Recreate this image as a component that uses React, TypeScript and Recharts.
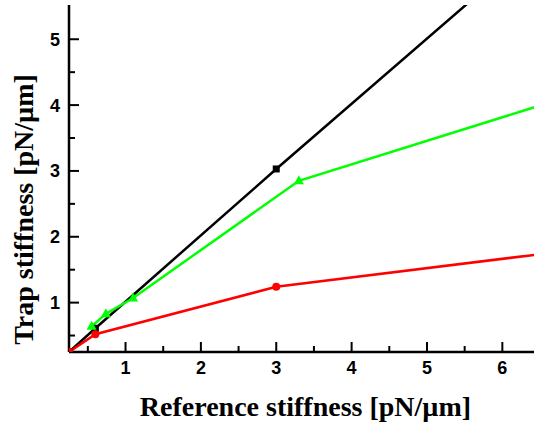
import React from 'react';
import { LineChart, Line, XAxis, YAxis } from 'recharts';

// reference stiffness (x) and measured trap stiffness (y), pN/µm
const refBlack = [0.25, 0.6, 3.0, 6.0];
const trapBlack = [0.25, 0.61, 3.03, 6.0];
const refRed = [0.25, 0.6, 3.0, 6.6];
const trapRed = [0.25, 0.52, 1.24, 1.75];
const refGreen = [0.55, 0.74, 1.1, 3.3, 6.6];
const trapGreen = [0.64, 0.83, 1.07, 2.85, 4.03];

const xTicks = [0.5, 1, 1.5, 2, 2.5, 3, 3.5, 4, 4.5, 5, 5.5, 6];
const yTicks = [0.5, 1, 1.5, 2, 2.5, 3, 3.5, 4, 4.5, 5];

const toPoints = (xs: number[], ys: number[]) => xs.map((x, i) => ({ x, y: ys[i] }));

const blackData = toPoints(refBlack, trapBlack);
const redData = toPoints(refRed, trapRed);
const greenData = toPoints(refGreen, trapGreen);

const tickFont = { fontFamily: '"Liberation Sans", Arial, sans-serif', fontWeight: 700, fontSize: 18 };
const labelFont = { fontFamily: '"Liberation Serif", "Times New Roman", serif', fontWeight: 700, fontSize: 28 };

const isMajor = (v: number) => Math.abs(v - Math.round(v)) < 1e-6;

const BottomTick = (props: any) => {
  const { x, y, payload } = props;
  const major = isMajor(payload.value);
  return (
    <g>
      <line x1={x} x2={x} y1={y} y2={y - (major ? 10 : 6)} stroke="#000" strokeWidth={2} />
      {major && (
        <text x={x} y={y + 22} textAnchor="middle" fill="#000" {...tickFont}>
          {payload.value}
        </text>
      )}
    </g>
  );
};

const TopTick = (props: any) => {
  const { x, y, payload } = props;
  const major = isMajor(payload.value);
  return <line x1={x} x2={x} y1={y} y2={y + (major ? 10 : 6)} stroke="#000" strokeWidth={2} />;
};

const LeftTick = (props: any) => {
  const { x, y, payload } = props;
  const major = isMajor(payload.value);
  return (
    <g>
      <line x1={x} x2={x + (major ? 10 : 6)} y1={y} y2={y} stroke="#000" strokeWidth={2} />
      {major && (
        <text x={x - 9} y={y + 6.5} textAnchor="end" fill="#000" {...tickFont}>
          {payload.value}
        </text>
      )}
    </g>
  );
};

const squareDot = (props: any) => {
  const { cx, cy, index } = props;
  return <rect key={`sq-${index}`} x={cx - 3.5} y={cy - 3.5} width={7} height={7} fill="#000" />;
};

const circleDot = (props: any) => {
  const { cx, cy, index } = props;
  return <circle key={`ci-${index}`} cx={cx} cy={cy} r={4} fill="#ff0000" />;
};

const triangleDot = (props: any) => {
  const { cx, cy, index } = props;
  const pts = `${cx},${cy - 5.5} ${cx + 5},${cy + 3.5} ${cx - 5},${cy + 3.5}`;
  return <polygon key={`tr-${index}`} points={pts} fill="#00ff00" />;
};

export default function App() {
  return (
    <div style={{ position: 'absolute', left: 0, top: 0, background: '#fff' }}>
      <LineChart width={534} height={423} margin={{ top: 5, right: 0, bottom: 0, left: 0 }}>
        <XAxis
          dataKey="x"
          type="number"
          domain={[0.25, 6.42]}
          allowDataOverflow
          ticks={xTicks}
          interval={0}
          height={71}
          tickSize={0}
          tickMargin={0}
          tickLine={false}
          tick={<BottomTick />}
          axisLine={{ stroke: '#000', strokeWidth: 2.5 }}
          label={{
            content: (p: any) => {
              const vb = p.viewBox || { x: 69, y: 352, width: 465 };
              return (
                <text x={vb.x + vb.width / 2 + 4} y={vb.y + 64} textAnchor="middle" fill="#000" {...labelFont}>
                  Reference stiffness [pN/µm]
                </text>
              );
            },
          }}
        />
        <XAxis
          xAxisId="top"
          orientation="top"
          dataKey="x"
          type="number"
          domain={[0.25, 6.42]}
          allowDataOverflow
          ticks={xTicks}
          interval={0}
          height={0}
          tickSize={0}
          tickMargin={0}
          tickLine={false}
          tick={<TopTick />}
          axisLine={{ stroke: '#000', strokeWidth: 2.5 }}
        />
        <YAxis
          type="number"
          domain={[0.25, 5.52]}
          allowDataOverflow
          ticks={yTicks}
          interval={0}
          width={69}
          tickSize={0}
          tickMargin={0}
          tickLine={false}
          tick={<LeftTick />}
          axisLine={{ stroke: '#000', strokeWidth: 2.5 }}
          label={{
            content: (p: any) => {
              const vb = p.viewBox || { x: 0, y: 5, width: 69, height: 347 };
              const cx = vb.x + 33;
              const cy = vb.y + vb.height / 2 + 31;
              return (
                <text x={cx} y={cy} transform={`rotate(-90 ${cx} ${cy})`} textAnchor="middle" fill="#000" {...labelFont}>
                  Trap stiffness [pN/µm]
                </text>
              );
            },
          }}
        />
        <Line
          data={blackData}
          dataKey="y"
          stroke="#000"
          strokeWidth={2.5}
          dot={squareDot}
          activeDot={false}
          isAnimationActive={false}
        />
        <Line
          data={redData}
          dataKey="y"
          stroke="#ff0000"
          strokeWidth={2.5}
          dot={circleDot}
          activeDot={false}
          isAnimationActive={false}
        />
        <Line
          data={greenData}
          dataKey="y"
          stroke="#00ff00"
          strokeWidth={2.5}
          dot={triangleDot}
          activeDot={false}
          isAnimationActive={false}
        />
      </LineChart>
    </div>
  );
}
